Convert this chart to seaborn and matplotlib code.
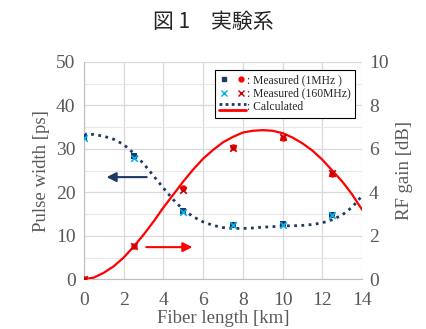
import matplotlib
matplotlib.use("Agg")
import matplotlib.pyplot as plt
import seaborn as sns
from matplotlib.lines import Line2D
from matplotlib.legend_handler import HandlerTuple, HandlerBase

# measured points
meas_x = [0, 2.5, 5, 7.5, 10, 12.5]
pw_1mhz = [32.8, 28.3, 15.7, 12.5, 12.8, 14.8]
pw_160mhz = [32.6, 28.0, 15.5, 12.4, 12.6, 14.9]
gain_1mhz = [0.0, 1.55, 4.2, 6.1, 6.5, 4.85]
gain_160mhz = [0.0, 1.55, 4.1, 6.05, 6.55, 4.9]

# calculated curves (read every 0.5 km)
calc_x = [0, 0.5, 1, 1.5, 2, 2.5, 3, 3.5, 4, 4.5, 5, 5.5, 6, 6.5, 7, 7.5, 8, 8.5, 9, 9.5,
          10, 10.5, 11, 11.5, 12, 12.5, 13, 13.5, 14]
pw_calc = [33.4, 33.3, 32.9, 32.2, 31.0, 29.0, 26.6, 23.8, 21.0, 18.3, 16.0, 14.4, 13.2, 12.4,
           11.9, 11.7, 11.7, 11.8, 12.0, 12.1, 12.3, 12.3, 12.4, 12.6, 13.0, 13.7, 14.8, 16.6, 19.2]
gain_calc = [0.0, 0.08, 0.3, 0.6, 1.0, 1.5, 2.05, 2.65, 3.3, 3.9, 4.5, 5.05, 5.55, 5.95, 6.3,
             6.55, 6.75, 6.83, 6.86, 6.83, 6.72, 6.52, 6.25, 5.92, 5.5, 5.0, 4.5, 3.9, 3.2]

navy = "#1F3864"
lblue = "#00B0F0"
red = "#FF0000"
dred = "#C00000"
txt = "#595959"

sns.set_style("white")
plt.rcParams["font.family"] = ["Liberation Serif", "Noto Sans CJK JP"]

fig = plt.figure(figsize=(4.26, 3.29), dpi=100)
ax = fig.add_axes([0.197, 0.151, 0.653, 0.661])
ax2 = ax.twinx()

sns.lineplot(x=calc_x, y=pw_calc, ax=ax, color=navy,
             linestyle=(0, (1, 1.6)), linewidth=2)
sns.lineplot(x=calc_x, y=gain_calc, ax=ax2, color=red, linewidth=1.6)

sns.scatterplot(x=meas_x, y=pw_1mhz, ax=ax, color=navy, marker="s", s=22, linewidth=0, zorder=5)
sns.scatterplot(x=meas_x, y=pw_160mhz, ax=ax, color=lblue, marker="x", s=22, linewidth=1.2, zorder=6)
sns.scatterplot(x=meas_x, y=gain_1mhz, ax=ax2, color=red, marker="o", s=22, linewidth=0, zorder=5)
sns.scatterplot(x=meas_x, y=gain_160mhz, ax=ax2, color=dred, marker="x", s=22, linewidth=1.2, zorder=6)

ax.set_xlim(0, 14)
ax.set_ylim(0, 50)
ax2.set_ylim(0, 10)
ax.set_xticks(range(0, 15, 2))
ax.set_yticks(range(0, 51, 10))
ax.set_yticks(range(5, 50, 10), minor=True)
ax2.set_yticks(range(0, 11, 2))
ax.grid(True, which="major", color="#d9d9d9", linewidth=0.9)
ax.grid(True, which="minor", axis="y", color="#e8e8e8", linewidth=0.8)
ax.set_axisbelow(True)
for a in (ax, ax2):
    for s in a.spines.values():
        s.set_visible(False)
    a.tick_params(which="both", length=0, labelsize=14, colors=txt)
ax.tick_params(axis="x", pad=9)
ax.tick_params(axis="y", pad=6)
ax2.tick_params(axis="y", pad=5)
ax.spines["bottom"].set_visible(True)
ax.spines["bottom"].set_color("#bfbfbf")
ax.spines["left"].set_visible(True)
ax.spines["left"].set_color("#bfbfbf")

ax.set_xlabel("Fiber length [km]", fontsize=13.5, color=txt, labelpad=1)
ax.set_ylabel("Pulse width [ps]", fontsize=13.5, color=txt, labelpad=4)
ax2.set_ylabel("RF gain [dB]", fontsize=13.5, color=txt, labelpad=5)

# direction arrows
ax.annotate("", xy=(1.0, 23.5), xytext=(3.3, 23.5),
            arrowprops=dict(arrowstyle="-|>", color=navy, lw=1.5, mutation_scale=14))
ax2.annotate("", xy=(5.6, 1.48), xytext=(3.0, 1.48),
             arrowprops=dict(arrowstyle="-|>", color=red, lw=1.5, mutation_scale=14))


class StackedLines(HandlerBase):
    def create_artists(self, legend, orig_handle, xd, yd, width, height, fontsize, trans):
        top = Line2D([0, width], [height * 0.75, height * 0.75], color=navy,
                     linestyle=(0, (1, 1.2)), linewidth=2, transform=trans)
        bot = Line2D([0, width], [height * 0.1, height * 0.1], color=red,
                     linewidth=2, transform=trans)
        return [top, bot]


class CalcKey:
    pass


h1 = (Line2D([], [], color=navy, marker="s", linestyle="none", markersize=3.5),
      Line2D([], [], color=red, marker="o", linestyle="none", markersize=3.5))
h2 = (Line2D([], [], color=lblue, marker="x", linestyle="none", markersize=4.5),
      Line2D([], [], color=dred, marker="x", linestyle="none", markersize=4.5))
h3 = CalcKey()
leg = ax2.legend([h1, h2, h3],
                 [": Measured (1MHz )", ": Measured (160MHz)", ": Calculated"],
                 handler_map={tuple: HandlerTuple(ndivide=None, pad=0.6), CalcKey: StackedLines()},
                 loc="upper right", bbox_to_anchor=(0.995, 0.99), fontsize=8.4,
                 frameon=True, fancybox=False, edgecolor="black", framealpha=1,
                 handlelength=2.3, handletextpad=0.1, borderpad=0.35, labelspacing=0.15)
leg.get_frame().set_linewidth(0.8)

fig.text(0.5, 0.915, "図 1　実験系", ha="center", fontsize=15,
         family=["Noto Sans CJK JP", "DejaVu Sans"])

fig.savefig("out.png", dpi=100)
